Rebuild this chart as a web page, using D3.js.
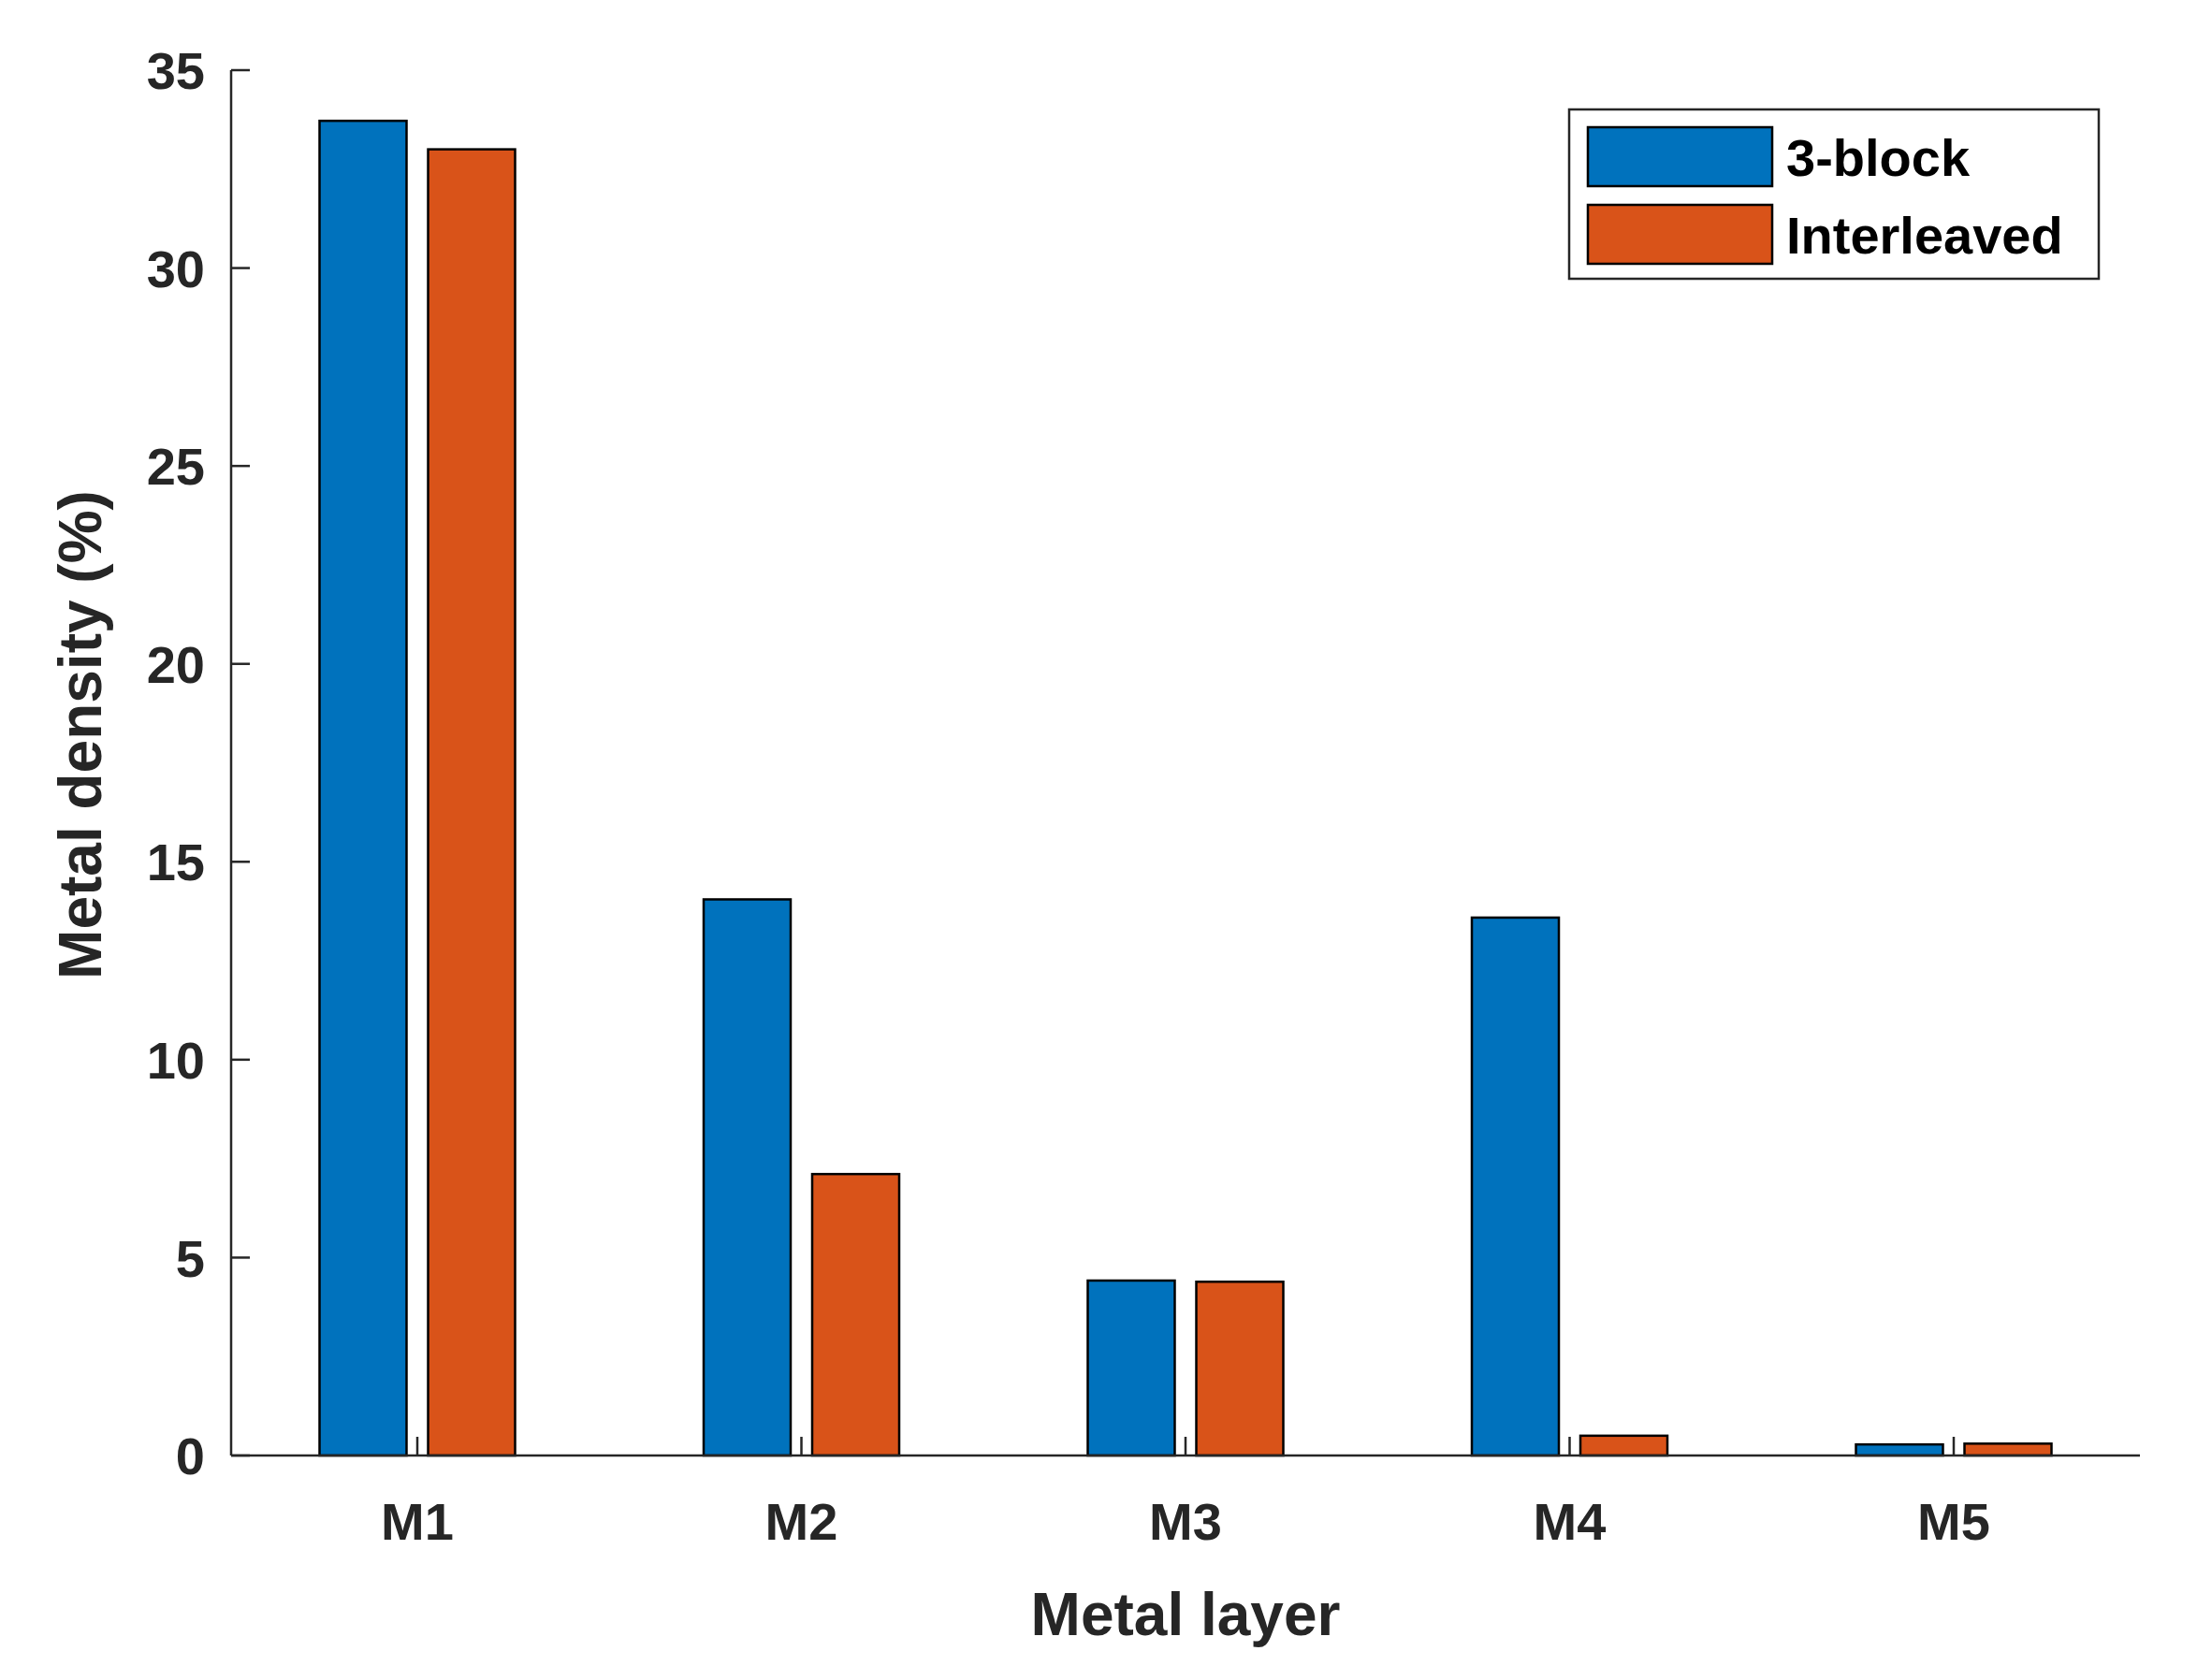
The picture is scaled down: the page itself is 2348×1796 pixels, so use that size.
<!DOCTYPE html>
<html><head><meta charset="utf-8">
<script src="https://cdn.jsdelivr.net/npm/d3@7"></script>
<style>body{margin:0;background:#fff}</style>
</head><body>
<svg id="svg" width="2348" height="1796"></svg>
<script>
const layers = ["M1", "M2", "M3", "M4", "M5"];
const threeBlock = [33.72, 14.05, 4.42, 13.59, 0.28];
const interleaved = [33.0, 7.11, 4.39, 0.5, 0.3];
const yTicks = [0, 5, 10, 15, 20, 25, 30, 35];
const seriesNames = ["3-block", "Interleaved"];
const colors = ["#0072bd", "#d95319"];

(function () {
const svg = d3.select("#svg");
const font = "'Liberation Sans', Arial, sans-serif";
const ink = "#262626";
const pLeft = 247, pRight = 2287, pTop = 75, pBottom = 1556;

const x = d3.scaleLinear().domain([1, 5]).range([446, 2088]);
const y = d3.scaleLinear().domain([0, 35]).range([pBottom, pTop]);
const barW = 93, off = 58;

const series = [threeBlock, interleaved];
series.forEach((vals, s) => {
    svg.append("g").selectAll("rect").data(vals).join("rect")
        .attr("x", (d, i) => x(i + 1) + (s === 0 ? -off : off) - barW / 2)
        .attr("y", d => y(d))
        .attr("width", barW)
        .attr("height", d => y(0) - y(d))
        .attr("fill", colors[s])
        .attr("stroke", "#000")
        .attr("stroke-width", 2.5);
});

// axes
svg.append("line").attr("x1", pLeft).attr("x2", pLeft).attr("y1", pTop).attr("y2", pBottom)
    .attr("stroke", ink).attr("stroke-width", 2.5);
svg.append("line").attr("x1", pLeft).attr("x2", pRight).attr("y1", pBottom).attr("y2", pBottom)
    .attr("stroke", ink).attr("stroke-width", 2.5);

yTicks.forEach(t => {
    svg.append("line").attr("x1", pLeft).attr("x2", pLeft + 20).attr("y1", y(t)).attr("y2", y(t))
        .attr("stroke", ink).attr("stroke-width", 2.5);
    svg.append("text").attr("x", pLeft - 28).attr("y", y(t)).attr("dy", "0.36em")
        .attr("text-anchor", "end").attr("font-family", font).attr("font-weight", "bold")
        .attr("font-size", 56).attr("fill", ink).text(t);
});

layers.forEach((l, i) => {
    svg.append("line").attr("x1", x(i + 1)).attr("x2", x(i + 1)).attr("y1", pBottom).attr("y2", pBottom - 20)
        .attr("stroke", ink).attr("stroke-width", 2.5);
    svg.append("text").attr("x", x(i + 1)).attr("y", pBottom + 90)
        .attr("text-anchor", "middle").attr("font-family", font).attr("font-weight", "bold")
        .attr("font-size", 56).attr("fill", ink).text(l);
});

svg.append("text").attr("x", (pLeft + pRight) / 2).attr("y", 1748)
    .attr("text-anchor", "middle").attr("font-family", font).attr("font-weight", "bold")
    .attr("font-size", 64).attr("fill", ink).text("Metal layer");
svg.append("text").attr("transform", `translate(108, ${(pTop + pBottom) / 2 - 30}) rotate(-90)`)
    .attr("text-anchor", "middle").attr("font-family", font).attr("font-weight", "bold")
    .attr("font-size", 64).attr("fill", ink).text("Metal density (%)");

// legend
const lg = svg.append("g");
lg.append("rect").attr("x", 1677).attr("y", 117).attr("width", 566).attr("height", 181)
    .attr("fill", "#fff").attr("stroke", ink).attr("stroke-width", 2.5);
seriesNames.forEach((n, i) => {
    lg.append("rect").attr("x", 1697).attr("y", 136 + i * 83).attr("width", 197).attr("height", 63)
        .attr("fill", colors[i]).attr("stroke", "#000").attr("stroke-width", 2.5);
    lg.append("text").attr("x", 1909).attr("y", 168 + i * 83).attr("dy", "0.36em")
        .attr("font-family", font).attr("font-weight", "bold").attr("font-size", 56)
        .attr("fill", "#000").text(n);
});
})();
</script>
</body></html>
